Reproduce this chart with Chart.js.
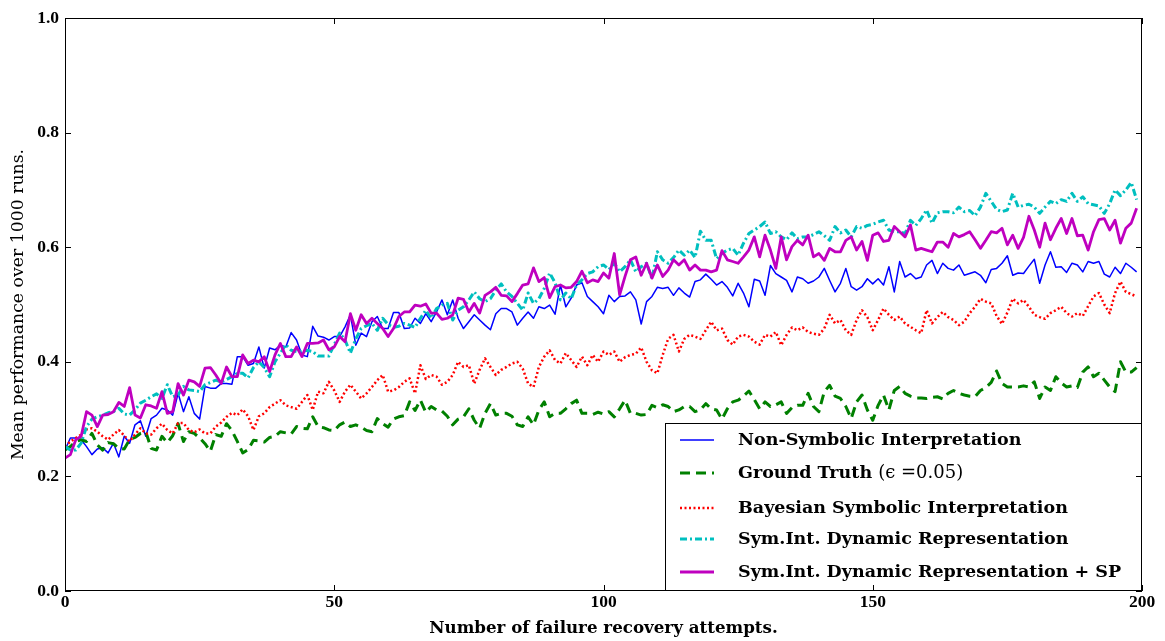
<!DOCTYPE html>
<html>
<head>
<meta charset="utf-8">
<script src="https://cdn.jsdelivr.net/npm/chart.js@4.4.1/dist/chart.umd.min.js"></script>
<style>
  html, body { margin: 0; padding: 0; background: #fff; }
  #chart { display: block; }
</style>
</head>
<body>
<canvas id="chart" width="1165" height="641"></canvas>
<script>
// mean performance per recovery attempt (0..199), one value per attempt
const nonSymbolic = [
  0.246, 0.267, 0.267, 0.264, 0.252, 0.238, 0.248, 0.250, 0.241, 0.258,
  0.234, 0.270, 0.258, 0.290, 0.297, 0.270, 0.301, 0.307, 0.319, 0.316,
  0.307, 0.345, 0.313, 0.339, 0.310, 0.300, 0.357, 0.354, 0.354, 0.362,
  0.362, 0.361, 0.409, 0.409, 0.394, 0.397, 0.426, 0.389, 0.424, 0.421,
  0.429, 0.426, 0.451, 0.438, 0.412, 0.409, 0.462, 0.445, 0.443, 0.438,
  0.444, 0.444, 0.461, 0.482, 0.429, 0.450, 0.444, 0.470, 0.479, 0.458,
  0.458, 0.486, 0.486, 0.458, 0.459, 0.476, 0.467, 0.484, 0.470, 0.487,
  0.508, 0.482, 0.508, 0.476, 0.458, 0.470, 0.482, 0.473, 0.464, 0.456,
  0.484, 0.493, 0.493, 0.487, 0.464, 0.476, 0.487, 0.476, 0.496, 0.493,
  0.499, 0.483, 0.534, 0.496, 0.511, 0.534, 0.538, 0.514, 0.505, 0.496,
  0.484, 0.516, 0.505, 0.514, 0.515, 0.522, 0.508, 0.466, 0.505, 0.514,
  0.530, 0.528, 0.530, 0.516, 0.529, 0.520, 0.513, 0.540, 0.543, 0.553,
  0.544, 0.534, 0.540, 0.530, 0.515, 0.537, 0.520, 0.496, 0.544, 0.541,
  0.516, 0.568, 0.554, 0.548, 0.542, 0.522, 0.548, 0.545, 0.537, 0.541,
  0.548, 0.563, 0.542, 0.522, 0.537, 0.563, 0.531, 0.525, 0.531, 0.545,
  0.536, 0.545, 0.534, 0.566, 0.522, 0.575, 0.548, 0.554, 0.545, 0.548,
  0.569, 0.577, 0.554, 0.572, 0.563, 0.560, 0.569, 0.551, 0.554, 0.557,
  0.551, 0.538, 0.561, 0.563, 0.572, 0.585, 0.551, 0.555, 0.554, 0.567,
  0.579, 0.537, 0.569, 0.592, 0.565, 0.566, 0.556, 0.572, 0.569, 0.557,
  0.575, 0.572, 0.575, 0.553, 0.548, 0.565, 0.554, 0.572, 0.565, 0.557
];

const groundTruth = [
  0.246, 0.252, 0.261, 0.264, 0.261, 0.275, 0.255, 0.246, 0.259, 0.257,
  0.249, 0.248, 0.264, 0.268, 0.275, 0.278, 0.249, 0.246, 0.270, 0.259,
  0.271, 0.292, 0.261, 0.278, 0.275, 0.267, 0.257, 0.244, 0.273, 0.270,
  0.292, 0.280, 0.261, 0.241, 0.247, 0.263, 0.262, 0.260, 0.268, 0.270,
  0.278, 0.276, 0.274, 0.287, 0.284, 0.283, 0.304, 0.287, 0.285, 0.281,
  0.280, 0.290, 0.295, 0.287, 0.290, 0.286, 0.280, 0.278, 0.301, 0.292,
  0.286, 0.300, 0.304, 0.306, 0.330, 0.315, 0.333, 0.312, 0.322, 0.316,
  0.314, 0.305, 0.290, 0.300, 0.304, 0.318, 0.298, 0.284, 0.310, 0.327,
  0.307, 0.310, 0.310, 0.305, 0.290, 0.287, 0.304, 0.290, 0.316, 0.330,
  0.304, 0.310, 0.310, 0.318, 0.327, 0.333, 0.310, 0.310, 0.308, 0.312,
  0.309, 0.313, 0.304, 0.318, 0.333, 0.310, 0.310, 0.307, 0.308, 0.324,
  0.320, 0.325, 0.322, 0.313, 0.316, 0.322, 0.322, 0.313, 0.316, 0.327,
  0.318, 0.316, 0.300, 0.318, 0.330, 0.333, 0.340, 0.349, 0.334, 0.318,
  0.330, 0.322, 0.325, 0.330, 0.310, 0.320, 0.324, 0.324, 0.345, 0.322,
  0.313, 0.348, 0.359, 0.340, 0.336, 0.322, 0.301, 0.330, 0.342, 0.316,
  0.298, 0.324, 0.342, 0.316, 0.350, 0.357, 0.345, 0.340, 0.337, 0.337,
  0.336, 0.338, 0.339, 0.335, 0.345, 0.350, 0.345, 0.342, 0.340, 0.339,
  0.350, 0.355, 0.364, 0.384, 0.362, 0.356, 0.356, 0.356, 0.358, 0.356,
  0.365, 0.336, 0.356, 0.350, 0.374, 0.363, 0.356, 0.358, 0.355, 0.382,
  0.391, 0.374, 0.380, 0.368, 0.356, 0.348, 0.400, 0.382, 0.382, 0.390
];

const bayesianSymbolic = [
  0.252, 0.261, 0.267, 0.273, 0.282, 0.284, 0.278, 0.270, 0.264, 0.273,
  0.281, 0.271, 0.261, 0.273, 0.284, 0.275, 0.273, 0.284, 0.292, 0.281,
  0.275, 0.293, 0.293, 0.281, 0.277, 0.282, 0.275, 0.275, 0.287, 0.294,
  0.304, 0.311, 0.307, 0.317, 0.305, 0.281, 0.305, 0.310, 0.321, 0.327,
  0.333, 0.324, 0.321, 0.318, 0.330, 0.342, 0.316, 0.348, 0.345, 0.365,
  0.350, 0.330, 0.348, 0.360, 0.348, 0.336, 0.345, 0.356, 0.368, 0.377,
  0.348, 0.350, 0.356, 0.365, 0.371, 0.345, 0.394, 0.370, 0.377, 0.374,
  0.360, 0.365, 0.377, 0.400, 0.391, 0.394, 0.362, 0.386, 0.406, 0.391,
  0.377, 0.386, 0.391, 0.397, 0.400, 0.388, 0.362, 0.356, 0.391, 0.409,
  0.420, 0.403, 0.397, 0.415, 0.403, 0.391, 0.409, 0.394, 0.412, 0.400,
  0.418, 0.412, 0.418, 0.400, 0.408, 0.412, 0.414, 0.425, 0.400, 0.385,
  0.380, 0.412, 0.440, 0.447, 0.418, 0.440, 0.447, 0.444, 0.440, 0.455,
  0.470, 0.455, 0.458, 0.438, 0.430, 0.444, 0.447, 0.444, 0.435, 0.430,
  0.447, 0.444, 0.452, 0.429, 0.447, 0.460, 0.455, 0.460, 0.452, 0.449,
  0.447, 0.458, 0.482, 0.467, 0.473, 0.455, 0.447, 0.473, 0.490, 0.478,
  0.455, 0.473, 0.493, 0.482, 0.473, 0.479, 0.467, 0.461, 0.455, 0.450,
  0.490, 0.467, 0.478, 0.487, 0.478, 0.473, 0.464, 0.470, 0.485, 0.496,
  0.510, 0.505, 0.502, 0.480, 0.466, 0.486, 0.510, 0.502, 0.508, 0.496,
  0.482, 0.478, 0.475, 0.485, 0.490, 0.496, 0.485, 0.479, 0.485, 0.480,
  0.497, 0.514, 0.520, 0.500, 0.485, 0.520, 0.540, 0.522, 0.518, 0.514
];

const symIntDynamic = [
  0.252, 0.246, 0.246, 0.258, 0.287, 0.300, 0.304, 0.307, 0.311, 0.313,
  0.319, 0.309, 0.307, 0.316, 0.328, 0.333, 0.339, 0.344, 0.336, 0.360,
  0.339, 0.342, 0.357, 0.351, 0.350, 0.348, 0.360, 0.364, 0.368, 0.365,
  0.369, 0.374, 0.380, 0.380, 0.372, 0.390, 0.400, 0.390, 0.374, 0.400,
  0.415, 0.430, 0.420, 0.418, 0.418, 0.420, 0.418, 0.410, 0.410, 0.410,
  0.430, 0.450, 0.438, 0.415, 0.440, 0.458, 0.463, 0.467, 0.455, 0.476,
  0.465, 0.460, 0.462, 0.467, 0.464, 0.460, 0.476, 0.490, 0.476, 0.493,
  0.499, 0.502, 0.473, 0.490, 0.496, 0.508, 0.522, 0.510, 0.505, 0.510,
  0.525, 0.536, 0.522, 0.514, 0.502, 0.490, 0.520, 0.502, 0.510, 0.528,
  0.555, 0.538, 0.508, 0.520, 0.510, 0.534, 0.543, 0.554, 0.557, 0.566,
  0.569, 0.561, 0.572, 0.557, 0.566, 0.578, 0.557, 0.566, 0.572, 0.545,
  0.592, 0.578, 0.572, 0.582, 0.595, 0.586, 0.595, 0.582, 0.628, 0.612,
  0.612, 0.580, 0.589, 0.595, 0.598, 0.586, 0.607, 0.624, 0.630, 0.636,
  0.644, 0.624, 0.627, 0.618, 0.613, 0.625, 0.615, 0.618, 0.618, 0.622,
  0.627, 0.620, 0.612, 0.636, 0.625, 0.630, 0.618, 0.636, 0.633, 0.638,
  0.640, 0.644, 0.647, 0.630, 0.627, 0.627, 0.624, 0.647, 0.638, 0.650,
  0.665, 0.642, 0.660, 0.662, 0.662, 0.660, 0.670, 0.662, 0.664, 0.655,
  0.670, 0.694, 0.680, 0.666, 0.662, 0.665, 0.694, 0.670, 0.673, 0.675,
  0.670, 0.659, 0.670, 0.680, 0.676, 0.683, 0.680, 0.694, 0.680, 0.688,
  0.676, 0.674, 0.672, 0.659, 0.676, 0.700, 0.690, 0.700, 0.713, 0.683
];

const symIntDynamicSP = [
  0.232, 0.238, 0.264, 0.270, 0.313, 0.307, 0.287, 0.307, 0.308, 0.313,
  0.329, 0.322, 0.355, 0.307, 0.302, 0.325, 0.323, 0.319, 0.348, 0.310,
  0.313, 0.362, 0.342, 0.368, 0.365, 0.357, 0.389, 0.390, 0.377, 0.362,
  0.391, 0.374, 0.374, 0.412, 0.397, 0.403, 0.400, 0.409, 0.383, 0.412,
  0.432, 0.409, 0.409, 0.426, 0.409, 0.432, 0.432, 0.433, 0.438, 0.421,
  0.426, 0.444, 0.435, 0.484, 0.455, 0.482, 0.467, 0.476, 0.467, 0.458,
  0.444, 0.458, 0.479, 0.487, 0.487, 0.499, 0.497, 0.501, 0.485, 0.485,
  0.474, 0.476, 0.482, 0.511, 0.509, 0.487, 0.502, 0.485, 0.516, 0.522,
  0.530, 0.516, 0.515, 0.505, 0.519, 0.534, 0.536, 0.564, 0.540, 0.547,
  0.512, 0.531, 0.534, 0.529, 0.530, 0.540, 0.558, 0.538, 0.543, 0.540,
  0.555, 0.546, 0.589, 0.517, 0.549, 0.578, 0.583, 0.551, 0.572, 0.546,
  0.569, 0.549, 0.560, 0.578, 0.569, 0.578, 0.560, 0.569, 0.560, 0.560,
  0.557, 0.560, 0.594, 0.578, 0.575, 0.572, 0.583, 0.595, 0.618, 0.583,
  0.621, 0.595, 0.563, 0.618, 0.578, 0.601, 0.612, 0.604, 0.621, 0.583,
  0.589, 0.577, 0.598, 0.592, 0.592, 0.612, 0.618, 0.595, 0.610, 0.577,
  0.621, 0.625, 0.610, 0.612, 0.636, 0.627, 0.618, 0.639, 0.595, 0.598,
  0.595, 0.592, 0.609, 0.609, 0.600, 0.624, 0.618, 0.622, 0.627, 0.613,
  0.598, 0.612, 0.627, 0.625, 0.633, 0.604, 0.621, 0.598, 0.617, 0.654,
  0.630, 0.600, 0.642, 0.613, 0.633, 0.650, 0.624, 0.650, 0.620, 0.621,
  0.595, 0.627, 0.648, 0.650, 0.630, 0.647, 0.607, 0.633, 0.642, 0.668
];

const attempts = nonSymbolic.map((_, i) => i);

const xTickValues = [0, 50, 100, 150, 200];
const yTickValues = [0.0, 0.2, 0.4, 0.6, 0.8, 1.0];
const yTickLabels = ['0.0', '0.2', '0.4', '0.6', '0.8', '1.0'];

const seriesNames = [
  'Non-Symbolic Interpretation',
  'Ground Truth (\u03F5 =0.05)',
  'Bayesian Symbolic Interpretation',
  'Sym.Int. Dynamic Representation',
  'Sym.Int. Dynamic Representation + SP'
];

const TICK_FONT = { family: '"Liberation Serif", serif', size: 17.5, weight: 'bold' };
const LEGEND_FONT = '"DejaVu Serif", serif';

function toPoints(values) {
  return values.map((v, i) => ({ x: attempts[i], y: v }));
}

// plot frame with inward ticks on all four sides
const frameTicks = {
  id: 'frameTicks',
  afterDatasetsDraw(chart) {
    const { ctx, chartArea: a, scales } = chart;
    const len = 6;
    ctx.save();
    ctx.strokeStyle = '#000';
    ctx.lineWidth = 1;
    ctx.beginPath();
    scales.x.ticks.forEach(t => {
      const px = Math.round(scales.x.getPixelForValue(t.value)) + 0.5;
      ctx.moveTo(px, a.bottom); ctx.lineTo(px, a.bottom - len);
      ctx.moveTo(px, a.top); ctx.lineTo(px, a.top + len);
    });
    scales.y.ticks.forEach(t => {
      const py = Math.round(scales.y.getPixelForValue(t.value)) + 0.5;
      ctx.moveTo(a.left, py); ctx.lineTo(a.left + len, py);
      ctx.moveTo(a.right, py); ctx.lineTo(a.right - len, py);
    });
    ctx.stroke();
    ctx.strokeRect(a.left + 0.5, a.top + 0.5, a.right - a.left - 1, a.bottom - a.top - 1);
    ctx.restore();
  }
};

// boxed legend in the lower right corner of the plot
const cornerLegend = {
  id: 'cornerLegend',
  afterDatasetsDraw(chart) {
    const { ctx, chartArea: a } = chart;
    const w = 477, h = 168;
    const x0 = a.right - w, y0 = a.bottom - h;
    ctx.save();
    ctx.fillStyle = '#fff';
    ctx.fillRect(x0, y0, w, h);
    ctx.strokeStyle = '#000';
    ctx.lineWidth = 1;
    ctx.strokeRect(x0 + 0.5, y0 + 0.5, w - 1, h - 1);

    const rows = [17, 50, 85, 116, 149];
    chart.data.datasets.forEach((ds, i) => {
      const y = y0 + rows[i];
      ctx.save();
      ctx.strokeStyle = ds.borderColor;
      ctx.lineWidth = ds.borderWidth;
      ctx.setLineDash(ds.borderDash || []);
      ctx.beginPath();
      ctx.moveTo(x0 + 15, y);
      ctx.lineTo(x0 + 49, y);
      ctx.stroke();
      ctx.restore();

      ctx.fillStyle = '#000';
      ctx.textBaseline = 'middle';
      ctx.textAlign = 'left';
      let x = x0 + 73;
      const label = ds.label;
      const cut = label.indexOf('(');
      const main = cut >= 0 ? label.slice(0, cut) : label;
      ctx.font = 'bold 17.5px ' + LEGEND_FONT;
      ctx.fillText(main, x, y);
      if (cut >= 0) {
        x += ctx.measureText(main).width;
        ctx.font = '18px ' + LEGEND_FONT;
        ctx.fillText(label.slice(cut), x, y);
      }
    });
    ctx.restore();
  }
};

const ctx = document.getElementById('chart').getContext('2d');
new Chart(ctx, {
  type: 'line',
  data: {
    datasets: [
      {
        label: seriesNames[0],
        data: toPoints(nonSymbolic),
        borderColor: '#0000ff',
        borderWidth: 1.5,
        order: 4
      },
      {
        label: seriesNames[1],
        data: toPoints(groundTruth),
        borderColor: '#008000',
        borderWidth: 3,
        borderDash: [10, 6],
        order: 3
      },
      {
        label: seriesNames[2],
        data: toPoints(bayesianSymbolic),
        borderColor: '#ff0000',
        borderWidth: 2.5,
        borderDash: [2, 2.5],
        order: 2
      },
      {
        label: seriesNames[3],
        data: toPoints(symIntDynamic),
        borderColor: '#00bfbf',
        borderWidth: 3,
        borderDash: [7, 3, 2, 3],
        order: 1
      },
      {
        label: seriesNames[4],
        data: toPoints(symIntDynamicSP),
        borderColor: '#bf00bf',
        borderWidth: 2.8,
        order: 0
      }
    ]
  },
  options: {
    responsive: false,
    animation: false,
    devicePixelRatio: 1,
    layout: { padding: { left: 0, right: 23, top: 18, bottom: 0 } },
    elements: {
      point: { radius: 0, hoverRadius: 0 },
      line: { tension: 0, fill: false, borderCapStyle: 'butt', borderJoinStyle: 'round' }
    },
    plugins: {
      legend: { display: false },
      tooltip: { enabled: false }
    },
    scales: {
      x: {
        type: 'linear',
        min: 0,
        max: 200,
        afterBuildTicks: s => { s.ticks = xTickValues.map(v => ({ value: v })); },
        afterFit: s => { s.height = 50; },
        grid: { display: false, drawTicks: false },
        border: { display: false },
        ticks: { color: '#000', font: TICK_FONT, padding: 1, maxRotation: 0 },
        title: {
          display: true,
          text: 'Number of failure recovery attempts.',
          color: '#000',
          font: { family: LEGEND_FONT, size: 16.7, weight: 'bold' },
          padding: { top: 0, bottom: 2 }
        }
      },
      y: {
        min: 0,
        max: 1,
        afterBuildTicks: s => { s.ticks = yTickValues.map(v => ({ value: v })); },
        afterFit: s => { s.width = 65; },
        grid: { display: false, drawTicks: false },
        border: { display: false },
        ticks: {
          color: '#000',
          font: TICK_FONT,
          padding: 6,
          callback: v => yTickLabels[yTickValues.indexOf(v)]
        },
        title: {
          display: true,
          text: 'Mean performance over 1000 runs.',
          color: '#000',
          font: { family: LEGEND_FONT, size: 17.3, weight: 'normal' },
          padding: { top: 8, bottom: 0 }
        }
      }
    }
  },
  plugins: [cornerLegend, frameTicks]
});
</script>
</body>
</html>
